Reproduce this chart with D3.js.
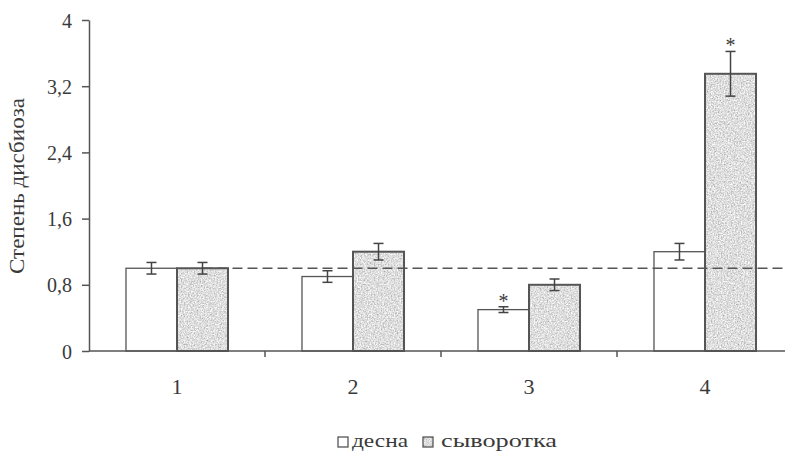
<!DOCTYPE html>
<html>
<head>
<meta charset="utf-8">
<script src="https://cdn.jsdelivr.net/npm/d3@7"></script>
<style>
  body { margin: 0; background: #fff; }
  text { font-family: "Liberation Serif", "DejaVu Serif", serif; fill: #3a3a3a; }
</style>
</head>
<body>
<svg id="svg1"></svg>
<script>
// data
var groups = ['1', '2', '3', '4'];
var seriesNames = ['десна', 'сыворотка'];
var gumValues = [1.0, 0.9, 0.5, 1.2];
var gumErrors = [0.07, 0.07, 0.035, 0.1];
var serumValues = [1.0, 1.2, 0.8, 3.35];
var serumErrors = [0.07, 0.1, 0.07, 0.27];
var gumStars = [false, false, true, false];
var serumStars = [false, false, false, true];
var yTicks = [0, 0.8, 1.6, 2.4, 3.2, 4];
var refLevel = 1.0;

var width = 785, height = 454;
var svg = d3.select('#svg1').attr('width', width).attr('height', height);

var defs = svg.append('defs');
var filt = defs.append('filter').attr('id', 'grain')
    .attr('x', 0).attr('y', 0).attr('width', 1).attr('height', 1);
filt.append('feTurbulence').attr('type', 'fractalNoise')
    .attr('baseFrequency', '0.7').attr('numOctaves', 3).attr('seed', 4).attr('result', 'n');
filt.append('feColorMatrix').attr('in', 'n').attr('type', 'matrix')
    .attr('values', '0.9 0 0 0 0.28  0.9 0 0 0 0.28  0.9 0 0 0 0.28  0 0 0 0 1').attr('result', 'g');
filt.append('feComposite').attr('in', 'g').attr('in2', 'SourceGraphic').attr('operator', 'in');

var plotLeft = 89, plotRight = 793, plotTop = 20, plotBottom = 351;

var x = d3.scaleBand().domain(groups).range([plotLeft, plotRight]);
var inner = d3.scaleBand().domain(seriesNames).range([0, x.bandwidth()]).paddingInner(0).paddingOuter(0.725);
var y = d3.scaleLinear().domain([0, 4]).range([plotBottom, plotTop]);

var ru = d3.formatLocale({decimal: ',', thousands: ' ', grouping: [3], currency: ['', '']});
var fmt = ru.format('~g');

// y axis
var yAxis = d3.axisLeft(y).tickValues(yTicks).tickFormat(fmt).tickSize(7).tickSizeOuter(0).tickPadding(10);
var gy = svg.append('g').attr('transform', 'translate(' + plotLeft + ',0)').call(yAxis);
gy.selectAll('path, line').attr('stroke', '#555').attr('stroke-width', 1.5);
gy.selectAll('text').style('font-size', '20px').attr('dy', '0.35em').attr('fill', '#3a3a3a');

// rows of data
var rows = groups.map(function(g, i) {
    return [
        {g: g, s: seriesNames[0], v: gumValues[i], e: gumErrors[i], star: gumStars[i]},
        {g: g, s: seriesNames[1], v: serumValues[i], e: serumErrors[i], star: serumStars[i]}
    ];
});
var flat = [].concat.apply([], rows);

var bars = svg.append('g');
bars.selectAll('rect.fill').data(flat).enter().append('rect')
    .attr('x', function(d) { return x(d.g) + inner(d.s); })
    .attr('y', function(d) { return y(d.v); })
    .attr('width', inner.bandwidth())
    .attr('height', function(d) { return y(0) - y(d.v); })
    .attr('fill', function(d) { return d.s === seriesNames[0] ? '#fff' : '#888'; })
    .attr('filter', function(d) { return d.s === seriesNames[0] ? null : 'url(#grain)'; });
bars.selectAll('rect.edge').data(flat).enter().append('rect')
    .attr('x', function(d) { return x(d.g) + inner(d.s); })
    .attr('y', function(d) { return y(d.v); })
    .attr('width', inner.bandwidth())
    .attr('height', function(d) { return y(0) - y(d.v); })
    .attr('fill', 'none')
    .attr('stroke', '#555')
    .attr('stroke-width', function(d) { return d.s === seriesNames[0] ? 1.3 : 2; });

// reference dashed line
svg.append('line')
    .attr('x1', x(groups[0]) + inner(seriesNames[1]) + inner.bandwidth() * 0.5).attr('x2', width)
    .attr('y1', y(refLevel)).attr('y2', y(refLevel))
    .attr('stroke', '#555').attr('stroke-width', 1.5).attr('stroke-dasharray', '10,5');

// error bars
var err = svg.append('g').attr('stroke', '#444').attr('stroke-width', 1.5);
flat.forEach(function(d) {
    var cx = x(d.g) + inner(d.s) + inner.bandwidth() / 2;
    err.append('line').attr('x1', cx).attr('x2', cx).attr('y1', y(d.v + d.e)).attr('y2', y(d.v - d.e));
    err.append('line').attr('x1', cx - 5).attr('x2', cx + 5).attr('y1', y(d.v + d.e)).attr('y2', y(d.v + d.e));
    err.append('line').attr('x1', cx - 5).attr('x2', cx + 5).attr('y1', y(d.v - d.e)).attr('y2', y(d.v - d.e));
    if (d.star) {
        svg.append('text').attr('x', cx).attr('y', y(d.v + d.e) + 1)
            .attr('text-anchor', 'middle').style('font-size', '20px').text('*');
    }
});

// x axis
svg.append('line').attr('x1', plotLeft).attr('x2', plotRight).attr('y1', plotBottom).attr('y2', plotBottom)
    .attr('stroke', '#555').attr('stroke-width', 1.5);
svg.append('g').selectAll('line').data(groups.slice(1)).enter().append('line')
    .attr('x1', function(d) { return x(d); }).attr('x2', function(d) { return x(d); })
    .attr('y1', plotBottom).attr('y2', plotBottom + 6)
    .attr('stroke', '#555').attr('stroke-width', 1.5);
svg.append('g').selectAll('text').data(groups).enter().append('text')
    .attr('x', function(d) { return x(d) + x.bandwidth() / 2; })
    .attr('y', 394)
    .attr('text-anchor', 'middle').style('font-size', '22px')
    .text(function(d) { return d; });

// y title
svg.append('text')
    .attr('transform', 'translate(24,186) rotate(-90)')
    .attr('text-anchor', 'middle').style('font-size', '20px')
    .attr('textLength', 176).attr('lengthAdjust', 'spacingAndGlyphs')
    .text('Степень дисбиоза');

// legend
var lg = svg.append('g').attr('transform', 'translate(338,437)');
lg.append('rect').attr('x', 0).attr('y', 0).attr('width', 10).attr('height', 10)
    .attr('fill', '#fff').attr('stroke', '#555').attr('stroke-width', 1.3);
lg.append('text').attr('x', 14).attr('y', 10).style('font-size', '19px')
    .attr('textLength', 56).attr('lengthAdjust', 'spacingAndGlyphs').text(seriesNames[0]);
lg.append('rect').attr('x', 85).attr('y', 0).attr('width', 10).attr('height', 10)
    .attr('fill', '#888').attr('filter', 'url(#grain)');
lg.append('rect').attr('x', 85).attr('y', 0).attr('width', 10).attr('height', 10)
    .attr('fill', 'none').attr('stroke', '#555').attr('stroke-width', 1.3);
lg.append('text').attr('x', 103).attr('y', 10).style('font-size', '19px')
    .attr('textLength', 116).attr('lengthAdjust', 'spacingAndGlyphs').text(seriesNames[1]);
</script>
</body>
</html>
